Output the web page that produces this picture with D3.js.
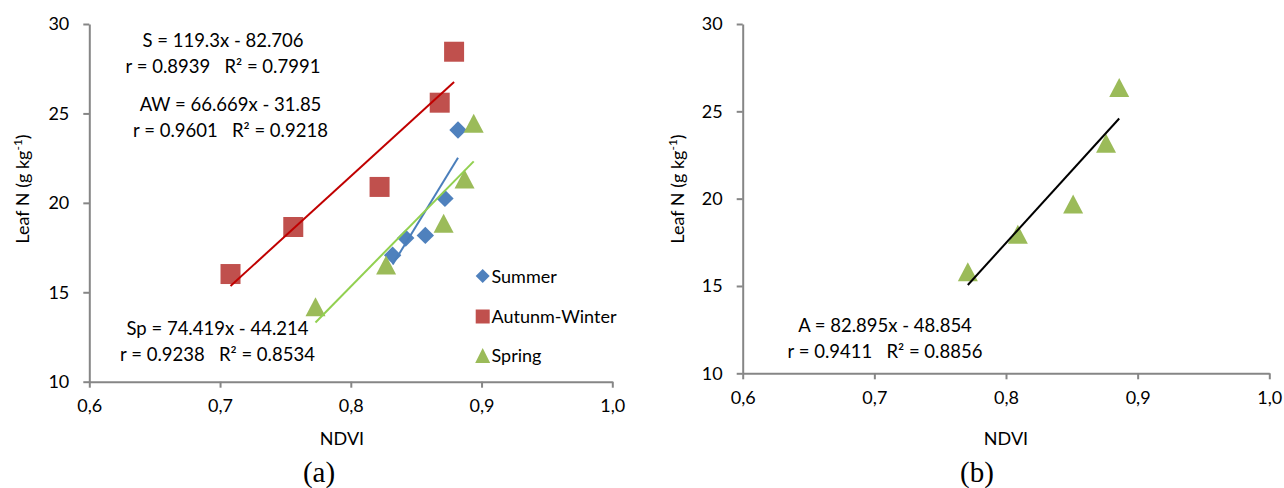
<!DOCTYPE html>
<html>
<head>
<meta charset="utf-8">
<script src="https://cdn.jsdelivr.net/npm/d3@7"></script>
<style>
  html, body { margin: 0; padding: 0; background: #fff; }
  svg { display: block; font-family: Lato, "Open Sans", sans-serif; }
  text { white-space: pre; }
</style>
</head>
<body>
<svg id="chart" width="1284" height="488"></svg>
<script>
// Leaf N versus NDVI, by season (a) and for all seasons together (b)
const xTicks = [0.6, 0.7, 0.8, 0.9, 1.0];
const xTickLabels = ["0,6", "0,7", "0,8", "0,9", "1,0"];
const yTicks = [10, 15, 20, 25, 30];

const summerNdvi = [0.832, 0.842, 0.857, 0.872, 0.882];
const summerN    = [17.07, 18.03, 18.18, 20.25, 24.07];
const autumnNdvi = [0.708, 0.756, 0.822, 0.868, 0.879];
const autumnN    = [16.02, 18.65, 20.89, 25.60, 28.45];
const springNdvi = [0.773, 0.827, 0.871, 0.887, 0.894];
const springN    = [14.19, 16.52, 18.86, 21.33, 24.45];
const allNdvi    = [0.771, 0.809, 0.851, 0.876, 0.886];
const allN       = [15.82, 17.96, 19.69, 23.17, 26.37];

// fitted lines: slope, intercept
const summerFit = [119.3, -82.706];
const autumnFit = [66.669, -31.85];
const springFit = [74.419, -44.214];
const allFit    = [82.895, -48.854];

const seriesNames = ["Summer", "Autunm-Winter", "Spring"];

const svg = d3.select("#chart");
const axisColor = "#868686";

// marker shapes
function diamond(r) { return `M0,${-r}L${r},0L0,${r}L${-r},0Z`; }
function square(s) { const h = s / 2; return `M${-h},${-h}H${h}V${h}H${-h}Z`; }
function triangle(w, h) { return `M0,${-h/2}L${w/2},${h/2}L${-w/2},${h/2}Z`; }

function makePanel(g, x, y, opts) {
  const xAxis = d3.axisBottom(x).tickValues(xTicks)
    .tickFormat((d, i) => xTickLabels[i]).tickSizeInner(6).tickSizeOuter(0).tickPadding(12);
  const yAxis = d3.axisLeft(y).tickValues(yTicks)
    .tickSizeInner(6).tickSizeOuter(0).tickPadding(14);

  const gx = g.append("g").attr("transform", `translate(0,${y.range()[0]})`).call(xAxis);
  const gy = g.append("g").attr("transform", `translate(${x.range()[0]},0)`).call(yAxis);
  [gx, gy].forEach(a => {
    a.select(".domain").attr("stroke", axisColor).attr("stroke-width", 2);
    a.selectAll(".tick line").attr("stroke", axisColor).attr("stroke-width", 2);
    a.selectAll(".tick text").attr("fill", "#000").attr("font-size", 18)
      .attr("font-family", "Lato, sans-serif");
  });

  // axis titles
  g.append("text").attr("x", opts.xTitleX).attr("y", opts.xTitleY)
    .attr("text-anchor", "middle").attr("font-size", 18).text("NDVI");
  const yt = g.append("text")
    .attr("transform", `translate(${opts.yTitleX},${opts.yTitleY}) rotate(-90)`)
    .attr("text-anchor", "middle").attr("font-size", 18);
  yt.append("tspan").text("Leaf N (g kg");
  yt.append("tspan").attr("font-size", 12).attr("dy", -7).text("-1");
  yt.append("tspan").attr("dy", 7).text(")");

  // panel letter
  g.append("text").attr("x", opts.letterX).attr("y", 482)
    .attr("text-anchor", "middle").attr("font-family", "'Liberation Serif', 'Times New Roman', serif")
    .attr("font-size", 29).text(opts.letter);
}

function points(g, x, y, xs, ys, path, color) {
  g.append("g").selectAll("path").data(xs.map((d, i) => [d, ys[i]])).join("path")
    .attr("transform", d => `translate(${x(d[0])},${y(d[1])})`)
    .attr("d", path).attr("fill", color);
}

function fitLine(g, x, y, xs, fit, color) {
  const x0 = d3.min(xs), x1 = d3.max(xs);
  g.append("line")
    .attr("x1", x(x0)).attr("y1", y(fit[0] * x0 + fit[1]))
    .attr("x2", x(x1)).attr("y2", y(fit[0] * x1 + fit[1]))
    .attr("stroke", color).attr("stroke-width", 2);
}

function label(g, cx, baseline, lines) {
  lines.forEach((t, i) => {
    g.append("text").attr("x", cx).attr("y", baseline + i * 25.5)
      .attr("text-anchor", "middle").attr("font-size", 18.5).text(t);
  });
}

// ---------- panel (a) ----------
const xa = d3.scaleLinear().domain([0.6, 1.0]).range([89.3, 612.3]);
const ya = d3.scaleLinear().domain([10, 30]).range([381.7, 24]);
const ga = svg.append("g");
makePanel(ga, xa, ya, { xTitleX: 342, xTitleY: 445, yTitleX: 29, yTitleY: 189, letter: "(a)", letterX: 319 });

const cSummer = "#4F81BD", cAutumn = "#C0504D", cSpring = "#9BBB59";
points(ga, xa, ya, summerNdvi, summerN, diamond(8.7), cSummer);
points(ga, xa, ya, autumnNdvi, autumnN, square(20), cAutumn);
points(ga, xa, ya, springNdvi, springN, triangle(20, 19), cSpring);

fitLine(ga, xa, ya, summerNdvi, summerFit, "#4A7EBB");
fitLine(ga, xa, ya, autumnNdvi, autumnFit, "#C00000");
fitLine(ga, xa, ya, springNdvi, springFit, "#92D050");

label(ga, 223, 47, ["S = 119.3x - 82.706", "r = 0.8939   R² = 0.7991"]);
label(ga, 230.5, 111, ["AW = 66.669x - 31.85", "r = 0.9601   R² = 0.9218"]);
label(ga, 217.5, 335, ["Sp = 74.419x - 44.214", "r = 0.9238   R² = 0.8534"]);

// legend
const legendY = [276, 316.5, 355.5];
const legendShapes = [diamond(7), square(14), triangle(15, 15)];
const legendColors = [cSummer, cAutumn, cSpring];
const lg = ga.append("g");
seriesNames.forEach((name, i) => {
  lg.append("path").attr("transform", `translate(482.7,${legendY[i]})`)
    .attr("d", legendShapes[i]).attr("fill", legendColors[i]);
  lg.append("text").attr("x", 491.5).attr("y", legendY[i] + 6.5)
    .attr("font-size", 18).text(name);
});

// ---------- panel (b) ----------
const xb = d3.scaleLinear().domain([0.6, 1.0]).range([742.7, 1269.3]);
const yb = d3.scaleLinear().domain([10, 30]).range([373.3, 24]);
const gb = svg.append("g");
makePanel(gb, xb, yb, { xTitleX: 1006, xTitleY: 445, yTitleX: 684, yTitleY: 189, letter: "(b)", letterX: 977 });

points(gb, xb, yb, allNdvi, allN, triangle(20, 19), cSpring);
fitLine(gb, xb, yb, allNdvi, allFit, "#000");
label(gb, 885, 332, ["A = 82.895x - 48.854", "r = 0.9411   R² = 0.8856"]);
</script>
</body>
</html>
